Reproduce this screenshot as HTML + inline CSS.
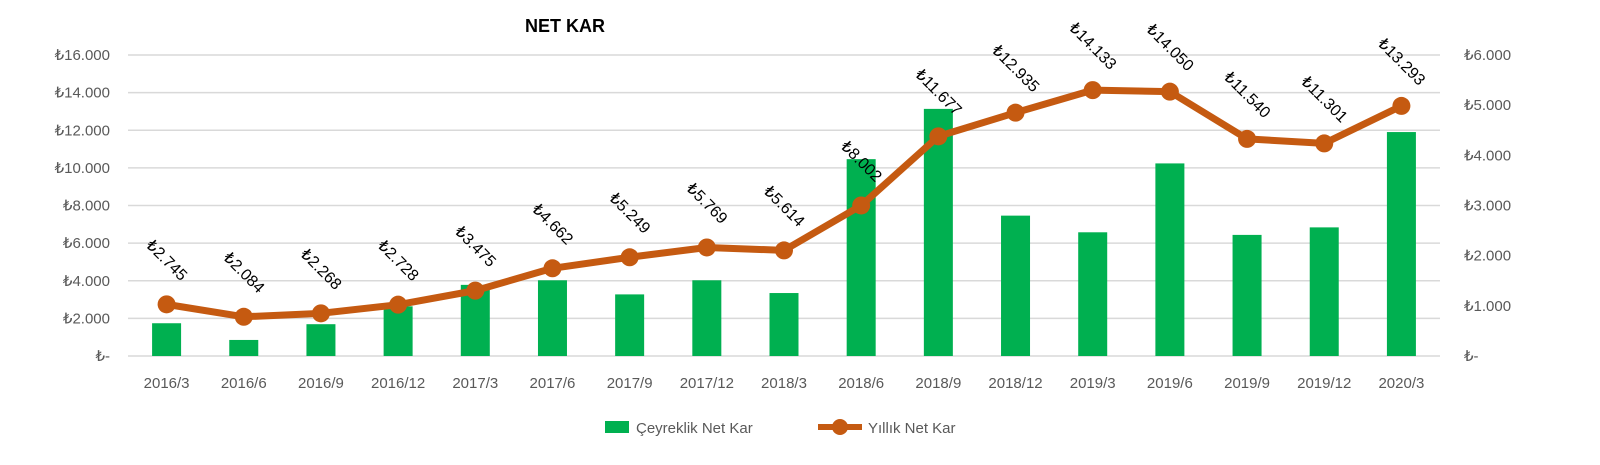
<!DOCTYPE html>
<html><head><meta charset="utf-8"><style>
body{margin:0;background:#fff;}
svg{display:block;font-family:"Liberation Sans",sans-serif;}
</style></head><body>
<svg id="chart" width="1600" height="465" viewBox="0 0 1600 465">
<text x="565" y="32" text-anchor="middle" font-size="18" font-weight="bold" fill="#000">NET KAR</text>
<g id="grid"></g><g id="bars"></g><g id="line"></g><g id="labels"></g><g id="axes"></g>
<g>
<rect x="605" y="421" width="24" height="12" fill="#00B050"/>
<text x="636" y="433" font-size="15" fill="#595959">Çeyreklik Net Kar</text>
<line x1="818" y1="427" x2="862" y2="427" stroke="#C55A11" stroke-width="6"/>
<circle cx="840" cy="427" r="8" fill="#C55A11"/>
<text x="868" y="433" font-size="15" fill="#595959">Yıllık Net Kar</text>
</g>
</svg>
<script>
const categories=["2016/3","2016/6","2016/9","2016/12","2017/3","2017/6","2017/9","2017/12","2018/3","2018/6","2018/9","2018/12","2019/3","2019/6","2019/9","2019/12","2020/3"];
const quarterly=[653,320,634,990,1418,1509,1228,1509,1255,3924,4926,2798,2466,3839,2414,2564,4464];
const annual=[2745,2084,2268,2728,3475,4662,5249,5769,5614,8002,11677,12935,14133,14050,11540,11301,13293];
const annualLabels=["₺2.745","₺2.084","₺2.268","₺2.728","₺3.475","₺4.662","₺5.249","₺5.769","₺5.614","₺8.002","₺11.677","₺12.935","₺14.133","₺14.050","₺11.540","₺11.301","₺13.293"];
const leftTicks=[0,2000,4000,6000,8000,10000,12000,14000,16000];
const leftTickLabels=["₺-","₺2.000","₺4.000","₺6.000","₺8.000","₺10.000","₺12.000","₺14.000","₺16.000"];
const rightTicks=[0,1000,2000,3000,4000,5000,6000];
const rightTickLabels=["₺-","₺1.000","₺2.000","₺3.000","₺4.000","₺5.000","₺6.000"];

const NS="http://www.w3.org/2000/svg";
const plotTop=55,plotBottom=356,plotLeft=128,plotRight=1440;
const step=(plotRight-plotLeft)/categories.length;
const xPos=i=>plotLeft+step*(i+0.5);
const yL=v=>plotBottom-v/16000*(plotBottom-plotTop);
const yR=v=>plotBottom-v/6000*(plotBottom-plotTop);
function mk(tag,attrs,parent){const e=document.createElementNS(NS,tag);for(const k in attrs)e.setAttribute(k,attrs[k]);parent.appendChild(e);return e;}
const G=id=>document.getElementById(id);

leftTicks.forEach((t,i)=>{
  const l=mk('line',{x1:plotLeft,x2:plotRight,y1:yL(t),y2:yL(t),stroke:'#d9d9d9','stroke-width':1.5},G('grid'));
  
  
  const tx=mk('text',{x:110,y:yL(t)+5,'text-anchor':'end','font-size':15,fill:'#595959'},G('axes'));
  tx.textContent=leftTickLabels[i];
  
  
});
rightTicks.forEach((t,i)=>{
  const tx=mk('text',{x:1464,y:yR(t)+5,'text-anchor':'start','font-size':15,fill:'#595959'},G('axes'));
  tx.textContent=rightTickLabels[i];
  
  
});
categories.forEach((c,i)=>{
  const tx=mk('text',{x:xPos(i),y:388,'text-anchor':'middle','font-size':15,fill:'#595959'},G('axes'));
  tx.textContent=c;
  
  
});
quarterly.forEach((v,i)=>{
  const r=mk('rect',{x:xPos(i)-14.5,y:yR(v),width:29,height:plotBottom-yR(v),fill:'#00B050'},G('bars'));
  
  
});
const pts=annual.map((v,i)=>xPos(i)+','+yL(v)).join(' ');
const pl=mk('polyline',{points:pts,fill:'none',stroke:'#C55A11','stroke-width':7,'stroke-linejoin':'round'},G('line'));


annual.forEach((v,i)=>{
  const c=mk('circle',{cx:xPos(i),cy:yL(v),r:9,fill:'#C55A11'},G('line'));
  
  
  const cx=xPos(i),cy=yL(v)-44;
  const t=mk('text',{x:cx,y:cy+5,'text-anchor':'middle','font-size':16,fill:'#000',transform:'rotate(45 '+cx+' '+cy+')'},G('labels'));
  t.textContent=annualLabels[i];
  
  
});
</script>
</body></html>
